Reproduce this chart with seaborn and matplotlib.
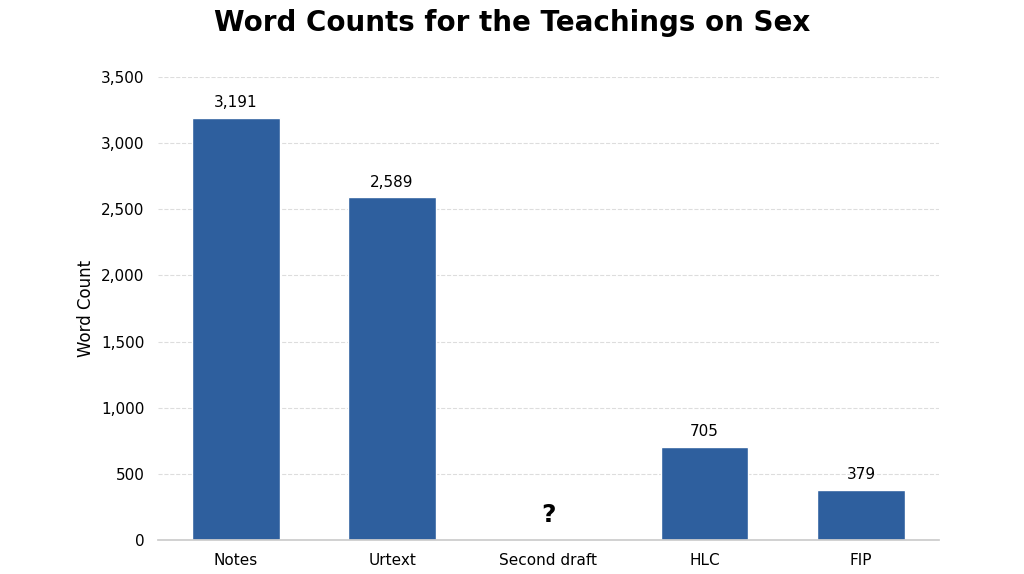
import matplotlib
matplotlib.use("Agg")
import matplotlib.pyplot as plt
import seaborn as sns
import pandas as pd

categories = ["Notes", "Urtext", "Second draft", "HLC", "FIP"]
values = [3191, 2589, 0, 705, 379]
labels = ["3,191", "2,589", "", "705", "379"]
yticks = [0, 500, 1000, 1500, 2000, 2500, 3000, 3500]

sns.set_theme(style="white")
plt.rcParams['font.family'] = ['DejaVu Sans']
plt.rcParams['text.color'] = 'black'
plt.rcParams['xtick.color'] = 'black'
plt.rcParams['ytick.color'] = 'black'
plt.rcParams['axes.labelcolor'] = 'black'
fig = plt.figure(figsize=(10.24, 5.74), dpi=100)
ax = fig.add_axes([0.154, 0.059, 0.763, 0.807])
df = pd.DataFrame({"cat": categories, "val": values})
sns.barplot(data=df, x="cat", y="val", color="#2e5f9e", saturation=1, width=0.56, ax=ax)
for i, (v, l) in enumerate(zip(values, labels)):
    if l:
        ax.text(i, v + 60, l, ha="center", va="bottom", fontsize=11)
ax.text(2, 100, "?", ha="center", va="bottom", fontsize=18, fontweight="bold")
ax.set_xlim(-0.5, 4.5)
ax.set_ylim(0, 3500)
ax.set_yticks(yticks)
ax.set_yticklabels([f"{t:,}" for t in yticks], fontsize=11)
ax.tick_params(axis="x", labelsize=11)
ax.set_xlabel("")
ax.set_ylabel("Word Count", fontsize=12)
ax.grid(axis="y", linestyle="--", color="#dddddd", linewidth=0.8)
ax.set_axisbelow(True)
for s in ["top", "right", "left"]:
    ax.spines[s].set_visible(False)
ax.spines["bottom"].set_color("#cccccc")
fig.suptitle("Word Counts for the Teachings on Sex", fontsize=20, fontweight="bold", y=0.985)
fig.savefig("out.png", dpi=100)
